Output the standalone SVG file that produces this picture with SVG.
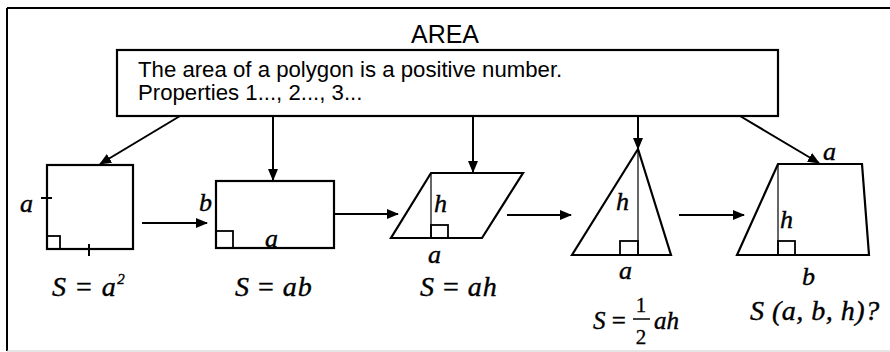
<svg xmlns="http://www.w3.org/2000/svg" width="890" height="352" viewBox="0 0 890 352">
<style>
.shape{fill:none;stroke:#000;stroke-width:2.2;stroke-linejoin:miter}
.thin{fill:none;stroke:#000;stroke-width:1.2}
.ra{fill:none;stroke:#000;stroke-width:1.8}
.conn{fill:none;stroke:#000;stroke-width:2}
.sans{font-family:"Liberation Sans",Arial,sans-serif;fill:#000}
.m{font-family:"Liberation Serif","Times New Roman",serif;font-style:italic;fill:#000;stroke:#000;stroke-width:0.4}
.r{font-family:"Liberation Serif","Times New Roman",serif;fill:#000;stroke:#000;stroke-width:0.3}
</style>
<defs>
<marker id="ah" markerWidth="12" markerHeight="10" refX="11" refY="5" orient="auto" markerUnits="userSpaceOnUse">
<path d="M0,0 L12,5 L0,10 Z" fill="#000"/>
</marker>
</defs>
<rect width="890" height="352" fill="#fff"/>
<g id="frame">
<line x1="7" y1="8" x2="890" y2="8" stroke="#000" stroke-width="2"/>
<line x1="7" y1="8" x2="7" y2="351" stroke="#000" stroke-width="2"/>
<line x1="7" y1="351" x2="890" y2="351" stroke="#ccc" stroke-width="1"/>
</g>
<text class="sans" x="445" y="43" font-size="25" text-anchor="middle">AREA</text>
<g id="box">
<rect class="shape" x="117" y="50" width="661" height="66" fill="#fff"/>
<text class="sans" x="138" y="77" font-size="22.2">The area of a polygon is a positive number.</text>
<text class="sans" x="138" y="100" font-size="22.2">Properties 1..., 2..., 3...</text>
</g>
<g id="square">
<rect class="shape" x="47" y="165" width="86" height="84"/>
<rect class="ra" x="47" y="236" width="13" height="13"/>
<line class="conn" x1="41" y1="198" x2="52" y2="198"/>
<line class="conn" x1="89" y1="244" x2="89" y2="256"/>
<text class="m" x="20" y="212" font-size="26">a</text>
<text class="m" x="52" y="296" font-size="28" letter-spacing="1.5">S <tspan font-style="normal">=</tspan> a<tspan font-size="15" dy="-12">2</tspan></text>
</g>
<g id="rectangle">
<rect class="shape" x="216" y="181" width="118" height="67"/>
<rect class="ra" x="216" y="231" width="17" height="17"/>
<text class="m" x="199" y="211" font-size="26">b</text>
<text class="m" x="265" y="247" font-size="26">a</text>
<text class="m" x="235" y="296" font-size="28" letter-spacing="1">S <tspan font-style="normal">=</tspan> ab</text>
</g>
<g id="parallelogram">
<path class="shape" d="M431,173 L523,173 L482,238 L391,238 Z"/>
<line class="thin" x1="431" y1="173" x2="431" y2="238"/>
<rect class="ra" x="431" y="225" width="17" height="13"/>
<text class="m" x="434" y="212" font-size="26">h</text>
<text class="m" x="428" y="263" font-size="26">a</text>
<text class="m" x="420" y="296" font-size="28" letter-spacing="1">S <tspan font-style="normal">=</tspan> ah</text>
</g>
<g id="triangle">
<path class="shape" d="M638,149 L671,255 L572,255 Z"/>
<line class="thin" x1="638" y1="149" x2="638" y2="255"/>
<rect class="ra" x="620" y="241" width="18" height="14"/>
<text class="m" x="616" y="210" font-size="26">h</text>
<text class="m" x="619" y="279" font-size="26">a</text>
<text class="m" x="593" y="329" font-size="25">S <tspan font-style="normal">=</tspan></text>
<text class="r" x="641" y="312" font-size="21" text-anchor="middle">1</text>
<line x1="633" y1="319" x2="650" y2="319" stroke="#000" stroke-width="1.5"/>
<text class="r" x="641" y="344" font-size="21" text-anchor="middle">2</text>
<text class="m" x="654" y="329" font-size="25">ah</text>
</g>
<g id="trapezoid">
<path class="shape" d="M778,164 L862,164 L869,255 L737,255 Z"/>
<line class="thin" x1="778" y1="164" x2="778" y2="255"/>
<rect class="ra" x="778" y="241" width="17" height="14"/>
<text class="m" x="780" y="228" font-size="26">h</text>
<text class="m" x="823" y="160" font-size="26">a</text>
<text class="m" x="802" y="285" font-size="26">b</text>
<text class="m" x="750" y="320" font-size="28" letter-spacing="0.5">S (a, b, h)?</text>
</g>
<g id="connectors">
<line class="conn" x1="180" y1="116" x2="100" y2="164" marker-end="url(#ah)"/>
<line class="conn" x1="273" y1="116" x2="273" y2="180" marker-end="url(#ah)"/>
<line class="conn" x1="473" y1="116" x2="473" y2="172" marker-end="url(#ah)"/>
<line class="conn" x1="638" y1="116" x2="638" y2="149" marker-end="url(#ah)"/>
<line class="conn" x1="740" y1="116" x2="819" y2="163" marker-end="url(#ah)"/>
<line class="conn" x1="142" y1="223" x2="207" y2="223" marker-end="url(#ah)"/>
<line class="conn" x1="333" y1="214" x2="398" y2="214" marker-end="url(#ah)"/>
<line class="conn" x1="507" y1="215" x2="571" y2="215" marker-end="url(#ah)"/>
<line class="conn" x1="679" y1="215" x2="744" y2="215" marker-end="url(#ah)"/>
</g>
</svg>
